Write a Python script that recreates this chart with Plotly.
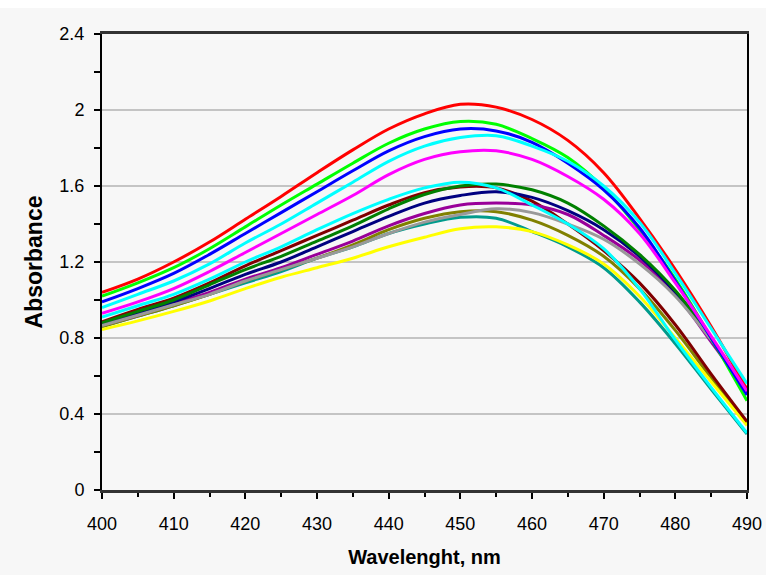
import plotly.graph_objects as go

wavelength = [400, 405, 410, 415, 420, 425, 430, 435, 440, 445, 450, 455, 460, 465, 470, 475, 480, 485, 490]

red = [1.04, 1.11, 1.20, 1.305, 1.425, 1.545, 1.67, 1.79, 1.90, 1.98, 2.03, 2.015, 1.95, 1.84, 1.67, 1.43, 1.16, 0.86, 0.53]
lime = [1.02, 1.09, 1.17, 1.27, 1.385, 1.50, 1.61, 1.72, 1.825, 1.90, 1.94, 1.925, 1.85, 1.75, 1.59, 1.37, 1.11, 0.80, 0.47]
blue = [0.99, 1.06, 1.14, 1.24, 1.35, 1.46, 1.57, 1.68, 1.785, 1.86, 1.90, 1.89, 1.83, 1.72, 1.58, 1.38, 1.10, 0.80, 0.50]
cyan_hi = [0.96, 1.03, 1.10, 1.19, 1.30, 1.40, 1.51, 1.62, 1.73, 1.81, 1.855, 1.865, 1.81, 1.73, 1.60, 1.41, 1.14, 0.85, 0.56]
magenta = [0.93, 0.99, 1.06, 1.15, 1.25, 1.35, 1.45, 1.55, 1.66, 1.74, 1.78, 1.785, 1.74, 1.65, 1.53, 1.35, 1.09, 0.81, 0.52]
cyan_lo = [0.91, 0.97, 1.03, 1.11, 1.20, 1.28, 1.37, 1.455, 1.53, 1.59, 1.62, 1.59, 1.50, 1.40, 1.27, 1.06, 0.79, 0.54, 0.30]
maroon = [0.885, 0.95, 1.01, 1.09, 1.18, 1.26, 1.34, 1.42, 1.50, 1.565, 1.595, 1.59, 1.52, 1.40, 1.26, 1.09, 0.87, 0.61, 0.36]
dkgreen = [0.88, 0.94, 1.00, 1.08, 1.16, 1.23, 1.31, 1.39, 1.48, 1.555, 1.60, 1.61, 1.58, 1.51, 1.39, 1.24, 1.05, 0.80, 0.52]
navy = [0.875, 0.93, 0.99, 1.06, 1.135, 1.20, 1.28, 1.36, 1.44, 1.51, 1.55, 1.57, 1.54, 1.47, 1.37, 1.23, 1.04, 0.79, 0.51]
purple = [0.87, 0.92, 0.98, 1.04, 1.11, 1.17, 1.24, 1.31, 1.39, 1.455, 1.50, 1.51, 1.50, 1.45, 1.34, 1.21, 1.03, 0.78, 0.52]
gray = [0.865, 0.92, 0.975, 1.03, 1.10, 1.16, 1.22, 1.28, 1.35, 1.41, 1.45, 1.48, 1.46, 1.40, 1.32, 1.19, 1.02, 0.79, 0.53]
olive = [0.86, 0.915, 0.97, 1.03, 1.10, 1.16, 1.22, 1.29, 1.37, 1.43, 1.465, 1.465, 1.42, 1.34, 1.23, 1.06, 0.84, 0.59, 0.345]
teal = [0.86, 0.915, 0.97, 1.03, 1.09, 1.15, 1.22, 1.28, 1.35, 1.40, 1.435, 1.43, 1.36, 1.28, 1.17, 0.99, 0.77, 0.53, 0.295]
yellow = [0.845, 0.89, 0.94, 0.995, 1.06, 1.12, 1.17, 1.22, 1.28, 1.33, 1.375, 1.385, 1.36, 1.29, 1.19, 1.02, 0.80, 0.57, 0.34]

x_tickvals = [400, 410, 420, 430, 440, 450, 460, 470, 480, 490]
x_ticktext = ["400", "410", "420", "430", "440", "450", "460", "470", "480", "490"]
y_tickvals = [0, 0.4, 0.8, 1.2, 1.6, 2.0, 2.4]
y_ticktext = ["0", "0.4", "0.8", "1.2", "1.6", "2", "2.4"]

series = [
    (teal, "#009B8C"),
    (olive, "#808000"),
    (yellow, "#FFFF00"),
    (maroon, "#800000"),
    (purple, "#990099"),
    (navy, "#000080"),
    (dkgreen, "#008000"),
    (gray, "#999999"),
    (cyan_lo, "#00FFFF"),
    (lime, "#00FF00"),
    (blue, "#0000FF"),
    (red, "#FF0000"),
    (magenta, "#FF00FF"),
    (cyan_hi, "#00FFFF"),
]

fig = go.Figure()
for vals, col in series:
    fig.add_trace(go.Scatter(x=wavelength, y=vals, mode="lines",
                             line=dict(color=col, width=3, shape="spline", smoothing=1.0),
                             showlegend=False, hoverinfo="skip"))

bg = "#F7F7F7"
fig.update_layout(
    width=766, height=575, autosize=False,
    paper_bgcolor=bg, plot_bgcolor=bg,
    margin=dict(l=102, r=19, t=34, b=85, pad=0, autoexpand=False),
    font=dict(family="Liberation Sans, Arial, sans-serif", size=18, color="#000000"),
    showlegend=False,
)
fig.update_xaxes(
    range=[400, 490], tickvals=x_tickvals, ticktext=x_ticktext, automargin=False,
    showline=True, linecolor="#333333", linewidth=3, mirror=True,
    ticks="outside", ticklen=6, tickwidth=1.5, tickcolor="#000000",
    minor=dict(dtick=5, tick0=400, ticks="outside", ticklen=4, tickcolor="#000000", tickwidth=1.5),
    showgrid=False, zeroline=False, ticklabelstandoff=9,
    title=dict(text="<b>Wavelenght, nm</b>", font=dict(size=20), standoff=18),
)
fig.update_yaxes(
    range=[0, 2.4], tickvals=y_tickvals, ticktext=y_ticktext, automargin=False,
    showline=True, linecolor="#000000", linewidth=2, mirror=True,
    ticks="outside", ticklen=6, tickwidth=1.5, tickcolor="#000000",
    minor=dict(dtick=0.2, tick0=0, ticks="outside", ticklen=6, tickcolor="#000000", tickwidth=1.5),
    showgrid=True, gridcolor="#C4C4C4", gridwidth=1.5, zeroline=False, ticklabelstandoff=6,
    title=dict(text="<b>Absorbance</b>", font=dict(size=23), standoff=10),
)
fig.add_shape(type="rect", xref="paper", yref="paper", x0=-0.2, x1=1.1, y0=1.0 + 26 / 456, y1=1.1,
              fillcolor="#FFFFFF", line=dict(width=0), layer="below")

fig.write_html("out.html", config={"displayModeBar": False, "responsive": False},
               post_script="document.body.style.margin='0';")
